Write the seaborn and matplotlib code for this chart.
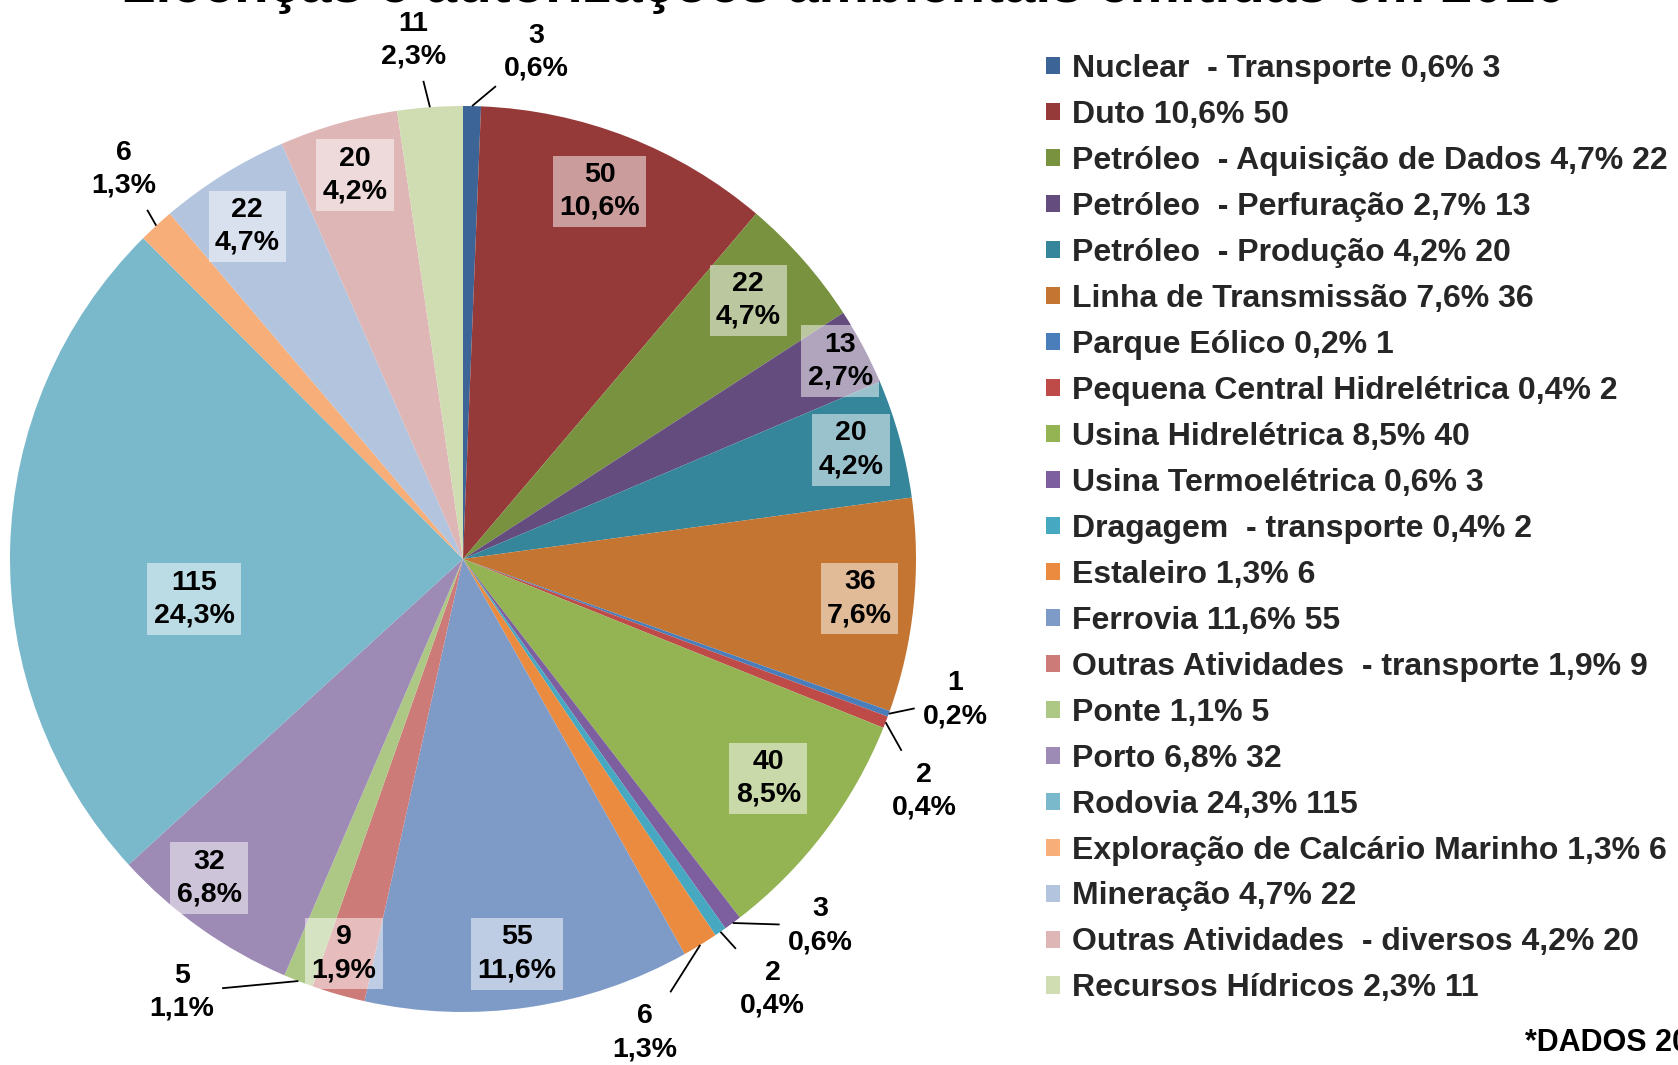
import numpy as np
import matplotlib
matplotlib.use("Agg")
import matplotlib.pyplot as plt
from matplotlib.patches import Patch
import seaborn as sns

# ---------------- data ----------------
categories = [
    "Nuclear  - Transporte", "Duto", "Petróleo  - Aquisição de Dados",
    "Petróleo  - Perfuração", "Petróleo  - Produção", "Linha de Transmissão",
    "Parque Eólico", "Pequena Central Hidrelétrica", "Usina Hidrelétrica",
    "Usina Termoelétrica", "Dragagem  - transporte", "Estaleiro", "Ferrovia",
    "Outras Atividades  - transporte", "Ponte", "Porto", "Rodovia",
    "Exploração de Calcário Marinho", "Mineração", "Outras Atividades  - diversos",
    "Recursos Hídricos",
]
values = [3, 50, 22, 13, 20, 36, 1, 2, 40, 3, 2, 6, 55, 9, 5, 32, 115, 6, 22, 20, 11]
colors = [
    "#3C6496", "#953A38", "#78923F", "#644C7E", "#35869B", "#C47532",
    "#4A7EBB", "#BE4B48", "#94B454", "#7D5E9E", "#47A8C1", "#EA8B3F",
    "#7E9BC8", "#CD7B79", "#ADC885", "#9D8AB5", "#7AB9CC", "#F8AE78",
    "#B3C4DE", "#DEB6B5", "#D0DDB2",
]
title = "Licenças e autorizações ambientais emitidas em 2010"
footnote = "*DADOS 2010"

# label placement (polar, relative to each wedge's mid angle)
inside = [False, True, True, True, True, True, False, False, True, False, False,
          False, True, True, False, True, True, False, True, True, False]
label_r = [1.13, 0.866, 0.85, 0.94, 0.89, 0.88, 1.13, 1.14, 0.83, 1.13, 1.17,
           1.12, 0.88, 0.91, 1.14, 0.90, 0.60, 1.14, 0.875, 0.88, 1.15]
label_dang = [-7.1, 0.9, 0.9, -0.3, 0.3, 0.2, 4.0, -5.6, 1.4, 7.7, 1.1,
              -10.6, -0.6, -0.8, -11.7, -3.1, 9.8, -1.6, 1.0, -0.3, 1.3]

# ---------------- style ----------------
sns.set_style("white")
plt.rcParams["font.family"] = ["Liberation Sans", "DejaVu Sans"]
plt.rcParams["font.weight"] = "bold"

W, H = 1678, 1065
fig = plt.figure(figsize=(W / 100, H / 100), dpi=100)
fig.patch.set_facecolor("white")

cx, cy, R_px, lim = 463, 559, 453, 1.3
side = 2 * lim * R_px
ax = fig.add_axes([(cx - side / 2) / W, (H - cy - side / 2) / H, side / W, side / H])

total = sum(values)
pct = [f"{v / total * 100:.1f}".replace(".", ",") + "%" for v in values]

wedges, _ = ax.pie(values, colors=colors, startangle=90, counterclock=False,
                   radius=1, wedgeprops=dict(linewidth=0))
ax.set_xlim(-lim, lim)
ax.set_ylim(-lim, lim)
ax.set_aspect("equal")
ax.axis("off")

hw, hh = 0.085, 0.085
for i, w in enumerate(wedges):
    mid = np.deg2rad((w.theta1 + w.theta2) / 2)
    ang = mid + np.deg2rad(label_dang[i])
    lx, ly = label_r[i] * np.cos(ang), label_r[i] * np.sin(ang)
    txt = f"{values[i]}\n{pct[i]}"
    if inside[i]:
        ax.text(lx, ly, txt, ha="center", va="center", fontsize=20.5,
                fontweight="bold", color="black", linespacing=1.35,
                bbox=dict(boxstyle="square,pad=0.22", facecolor="white",
                          alpha=0.5, edgecolor="none"), clip_on=False)
    else:
        ax.text(lx, ly, txt, ha="center", va="center", fontsize=20.5,
                fontweight="bold", color="black", linespacing=1.35, clip_on=False)
        ex, ey = np.cos(mid), np.sin(mid)
        vx, vy = ex - lx, ey - ly
        t = 1.0 / max(abs(vx) / hw, abs(vy) / hh)
        t = min(1.0, t * 1.05)
        ax.plot([ex, lx + vx * t], [ey, ly + vy * t], color="black", lw=1.3,
                clip_on=False, solid_capstyle="butt")

# legend
labels = [f"{c} {p} {v}" for c, p, v in zip(categories, pct, values)]
handles = [Patch(facecolor=c, edgecolor="none") for c in colors]
fig.legend(handles, labels, loc="upper left",
           bbox_to_anchor=(1046 / W, 1 - 54 / H), frameon=False,
           prop=dict(family=["Liberation Sans", "DejaVu Sans"], weight="bold", size=23),
           handlelength=0.45, handleheight=0.45, handletextpad=0.35,
           labelspacing=0.50, borderpad=0, borderaxespad=0)

# title (partly cropped at top as in reference)
fig.text(844 / W, 1 - 1.5 / H, title, ha="center", va="baseline",
         fontsize=40.7, fontweight="bold", color="black")

fig.text(1525 / W, 1 - 1043 / H, footnote, ha="left", va="center",
         fontsize=22, fontweight="bold", color="black")

fig.savefig("out.png", dpi=100, facecolor="white")
